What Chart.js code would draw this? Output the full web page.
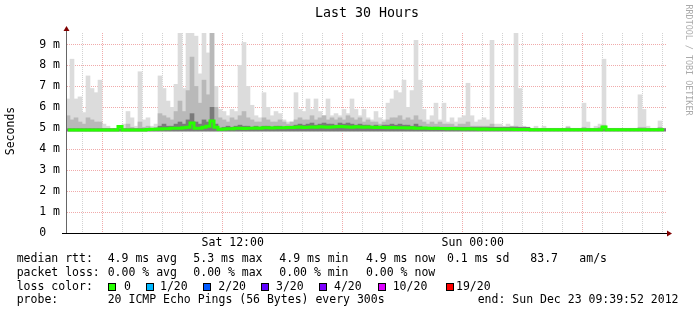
<!DOCTYPE html>
<html>
<head>
<meta charset="utf-8">
<script src="https://cdn.jsdelivr.net/npm/chart.js@4"></script>
<style>
  body { margin: 0; background: #fff; }
  canvas { display: block; }
</style>
</head>
<body>
<canvas id="smokeChart" width="697" height="315"></canvas>
<script>
// time axis: hours since Sat 00:00, graph spans 30 h ending Sun 09:39:52
const startHour = 3.6644;
const endHour = 33.6644;
const binHours = 0.2;

// max ping per bin (ms)
const maxRtt = [
  6.4, 8.3, 6.4, 6.5, 5.75, 7.5, 6.9, 6.7, 7.3, 5.2,
  5.1, 5.0, 5.0, 5.1, 5.2, 5.8, 5.5, 5.1, 7.7, 5.4,
  5.5, 5.1, 5.2, 7.5, 6.9, 6.3, 6.0, 7.1, 9.6, 6.9,
  9.6, 9.6, 9.4, 7.6, 9.6, 8.6, 9.6, 7.0, 5.9, 5.8,
  5.6, 5.9, 5.8, 8.0, 9.1, 7.0, 6.1, 5.6, 5.5, 6.7,
  6.0, 5.6, 5.8, 5.7, 5.4, 5.3, 5.3, 6.7, 5.9, 5.8,
  6.4, 5.9, 6.4, 5.8, 5.6, 6.4, 5.6, 5.7, 5.6, 5.9,
  5.7, 6.4, 5.9, 5.6, 5.9, 5.5, 5.4, 5.8, 5.5, 5.4,
  6.2, 6.4, 6.8, 6.7, 7.3, 6.0, 6.8, 9.2, 7.3, 5.9,
  5.4, 5.6, 6.2, 5.4, 6.2, 5.3, 5.5, 5.3, 5.5, 5.6,
  7.15, 5.6, 5.3, 5.4, 5.5, 5.4, 9.2, 5.2, 5.2, 5.1,
  5.2, 5.1, 9.55, 6.9, 5.1, 5.0, 5.0, 5.1, 5.0, 5.1,
  5.0, 5.0, 5.0, 5.0, 5.0, 5.1, 5.0, 5.0, 5.0, 6.2,
  5.3, 5.0, 5.1, 5.2, 8.3, 5.0, 5.0, 5.0, 5.0, 5.0,
  5.0, 5.0, 5.0, 6.6, 5.9, 5.1, 5.0, 5.0, 5.35, 5.0
];

// upper edge of the denser smoke (ms)
const midRtt = [
  5.6, 5.4, 5.5, 5.3, 5.2, 5.5, 5.4, 5.3, 5.3, 5.0,
  5.0, 4.98, 4.98, 5.1, 5.0, 5.2, 5.05, 5.0, 5.3, 5.05,
  5.1, 5.0, 5.05, 5.7, 5.6, 5.5, 5.4, 5.8, 6.3, 5.8,
  6.8, 8.4, 7.0, 6.2, 7.3, 6.6, 9.55, 6.0, 5.5, 5.4,
  5.3, 5.5, 5.4, 5.6, 5.8, 5.5, 5.4, 5.3, 5.3, 5.5,
  5.4, 5.3, 5.3, 5.4, 5.3, 5.2, 5.3, 5.4, 5.5, 5.4,
  5.4, 5.6, 5.4, 5.5, 5.6, 5.4, 5.5, 5.4, 5.5, 5.4,
  5.6, 5.5, 5.4, 5.5, 5.3, 5.4, 5.3, 5.3, 5.2, 5.3,
  5.4, 5.5, 5.5, 5.6, 5.4, 5.5, 5.4, 5.6, 5.4, 5.3,
  5.2, 5.3, 5.2, 5.3, 5.2, 5.2, 5.2, 5.1, 5.2, 5.2,
  5.3, 5.1, 5.1, 5.1, 5.1, 5.1, 5.2, 5.05, 5.05, 5.05,
  5.05, 5.1, 5.1, 5.05, 5.05, 5.0, 5.0, 5.0, 5.0, 5.0,
  5.0, 5.0, 5.0, 5.0, 5.0, 5.05, 5.0, 5.0, 5.0, 5.05,
  5.0, 5.0, 5.0, 5.05, 5.15, 5.0, 5.0, 5.0, 5.0, 5.0,
  5.0, 5.0, 5.0, 5.05, 5.05, 5.0, 5.0, 5.0, 5.05, 5.0
];

// upper edge of the darkest smoke near the median (ms)
const darkRtt = [
  4.98, 4.98, 4.98, 4.98, 4.98, 4.98, 4.98, 4.98, 4.98, 4.98,
  4.98, 4.98, 4.98, 4.98, 4.98, 4.98, 4.98, 4.98, 4.98, 4.98,
  4.98, 4.98, 4.98, 5.1, 5.2, 5.1, 5.1, 5.2, 5.3, 5.2,
  5.4, 5.7, 5.3, 5.2, 5.4, 5.3, 6.0, 5.2, 5.0, 5.05,
  5.1, 5.05, 5.1, 5.15, 5.1, 5.1, 5.05, 5.1, 5.05, 5.1,
  5.1, 5.05, 5.1, 5.1, 5.05, 5.1, 5.1, 5.15, 5.2, 5.15,
  5.2, 5.25, 5.15, 5.2, 5.25, 5.2, 5.2, 5.15, 5.25, 5.2,
  5.25, 5.2, 5.15, 5.2, 5.15, 5.15, 5.1, 5.15, 5.1, 5.15,
  5.15, 5.2, 5.15, 5.2, 5.15, 5.15, 5.1, 5.2, 5.1, 5.05,
  5.05, 5.05, 5.05, 5.05, 5.05, 5.05, 5.05, 5.05, 5.05, 5.05,
  5.05, 5.05, 5.05, 5.05, 5.05, 5.05, 5.05, 5.05, 5.05, 5.05,
  5.05, 5.05, 5.05, 5.05, 5.05, 5.05, 4.98, 4.98, 4.98, 4.98,
  4.98, 4.98, 4.98, 4.98, 4.98, 4.98, 4.98, 4.98, 4.98, 4.98,
  4.98, 4.98, 4.98, 4.98, 4.98, 4.98, 4.98, 4.98, 4.98, 4.98,
  4.98, 4.98, 4.98, 4.98, 4.98, 4.98, 4.98, 4.98, 4.98, 4.98
];

// median rtt (ms)
const medianRtt = [
  4.92, 4.92, 4.92, 4.92, 4.92, 4.92, 4.92, 4.92, 4.92, 4.92,
  4.92, 4.92, 4.92, 5.08, 4.92, 4.92, 4.92, 4.92, 4.92, 4.92,
  4.94, 4.95, 4.95, 4.97, 4.98, 4.98, 5.0, 5.0, 5.0, 5.02,
  5.05, 5.25, 5.0, 5.0, 5.05, 5.1, 5.35, 5.05, 4.96, 4.97,
  4.98, 4.98, 5.0, 5.0, 4.99, 5.0, 5.0, 5.01, 5.0, 5.02,
  5.02, 5.01, 5.03, 5.03, 5.02, 5.04, 5.04, 5.05, 5.06, 5.04,
  5.05, 5.06, 5.05, 5.07, 5.06, 5.05, 5.06, 5.07, 5.08, 5.07,
  5.06, 5.05, 5.07, 5.06, 5.05, 5.06, 5.05, 5.04, 5.05, 5.04,
  5.03, 5.04, 5.03, 5.02, 5.02, 5.01, 5.02, 5.0, 5.0, 5.01,
  5.0, 4.99, 5.0, 4.99, 4.99, 4.98, 4.99, 4.98, 4.98, 4.97,
  4.98, 4.97, 4.97, 4.96, 4.97, 4.96, 4.96, 4.95, 4.96, 4.95,
  4.95, 4.95, 4.94, 4.94, 4.94, 4.94, 4.93, 4.93, 4.93, 4.93,
  4.93, 4.93, 4.93, 4.93, 4.93, 4.93, 4.93, 4.93, 4.93, 4.93,
  4.93, 4.93, 4.93, 4.93, 5.06, 4.93, 4.93, 4.93, 4.93, 4.93,
  4.93, 4.93, 4.93, 4.93, 4.93, 4.93, 4.93, 4.93, 4.93, 4.93
];
const smokeFloor = 4.85;

const yTickValues = [0, 0.5, 1, 1.5, 2, 2.5, 3, 3.5, 4, 4.5, 5, 5.5, 6, 6.5, 7, 7.5, 8, 8.5, 9, 9.5];
const xTickHours = [4, 5, 6, 7, 8, 9, 10, 11, 12, 13, 14, 15, 16, 17, 18, 19, 20, 21, 22, 23,
  24, 25, 26, 27, 28, 29, 30, 31, 32, 33];
const xTickLabels = { 12: 'Sat 12:00', 24: 'Sun 00:00' };

const statRows = [
  ['median rtt:', '4.9 ms avg', '5.3 ms max', '4.9 ms min', '4.9 ms now', '0.1 ms sd', '83.7', 'am/s'],
  ['packet loss:', '0.00 % avg', '0.00 % max', '0.00 % min', '0.00 % now']
];
const lossLabels = ['0', '1/20', '2/20', '3/20', '4/20', '10/20', '19/20'];
const lossColors = ['#26ff00', '#00b8ff', '#0059ff', '#5e00ff', '#7e00ff', '#dd00ff', '#ff0000'];

const binTimes = maxRtt.map((_, i) => startHour + binHours * (i + 0.5));
const band = (tops, floor) => tops.map((v, i) => ({ x: binTimes[i], y: [floor, v] }));

const MONO = '"DejaVu Sans Mono", monospace';
const MINOR = '#d2d2d2';
const MAJOR = '#f0aaaa';

const decor = {
  id: 'decor',
  afterDraw(chart) {
    const ctx = chart.ctx;
    const a = chart.chartArea;
    ctx.save();
    // axes with arrows
    ctx.lineWidth = 1;
    ctx.strokeStyle = '#666';
    ctx.beginPath(); ctx.moveTo(a.left + 0.5, a.bottom); ctx.lineTo(a.left + 0.5, 29); ctx.stroke();
    ctx.strokeStyle = '#000';
    ctx.beginPath(); ctx.moveTo(62, a.bottom + 0.5); ctx.lineTo(a.right + 2, a.bottom + 0.5); ctx.stroke();
    ctx.fillStyle = '#800000';
    ctx.beginPath(); ctx.moveTo(a.left + 0.5, 26); ctx.lineTo(a.left - 2.5, 31); ctx.lineTo(a.left + 3.5, 31); ctx.closePath(); ctx.fill();
    ctx.beginPath(); ctx.moveTo(a.right + 6, a.bottom + 0.5); ctx.lineTo(a.right + 1, a.bottom - 2.5); ctx.lineTo(a.right + 1, a.bottom + 3.5); ctx.closePath(); ctx.fill();

    // title
    ctx.fillStyle = '#000';
    ctx.textBaseline = 'middle';
    ctx.textAlign = 'center';
    ctx.font = '13.3px ' + MONO;
    ctx.fillText('Last 30 Hours', 367, 14);

    // y title
    ctx.font = '11.5px ' + MONO;
    ctx.save();
    ctx.translate(11, 131);
    ctx.rotate(-Math.PI / 2);
    ctx.fillText('Seconds', 0, 0);
    ctx.restore();

    // watermark
    ctx.save();
    ctx.fillStyle = '#aaa';
    ctx.font = '8.4px ' + MONO;
    ctx.translate(688, 60);
    ctx.rotate(Math.PI / 2);
    ctx.fillText('RRDTOOL / TOBI OETIKER', 0, 0);
    ctx.restore();

    // legend block
    ctx.textAlign = 'left';
    ctx.font = '11.5px ' + MONO;
    const colX = [16.7, 107.7, 193.3, 279.3, 366, 447, 530.3, 579.3];
    const rowY = [259.3, 272.7, 287, 300.3];
    statRows.forEach((row, r) => {
      row.forEach((txt, c) => ctx.fillText(txt, colX[c], rowY[r]));
    });
    ctx.fillText('loss color:', colX[0], rowY[2]);
    const boxX = [108.3, 145.7, 203.3, 261, 319.3, 377.7, 446];
    const labX = [124, 160, 218.3, 276, 334, 392.7, 456];
    lossLabels.forEach((lab, i) => {
      ctx.fillStyle = lossColors[i];
      ctx.fillRect(Math.round(boxX[i]), 283, 8, 8);
      ctx.strokeStyle = '#000';
      ctx.strokeRect(Math.round(boxX[i]) + 0.5, 283.5, 7, 7);
      ctx.fillStyle = '#000';
      ctx.fillText(lab, labX[i], rowY[2]);
    });
    ctx.fillText('probe:', colX[0], rowY[3]);
    ctx.fillText('20 ICMP Echo Pings (56 Bytes) every 300s', colX[1], rowY[3]);
    ctx.fillText('end: Sun Dec 23 09:39:52 2012', 477.7, rowY[3]);
    ctx.restore();
  }
};

new Chart(document.getElementById('smokeChart'), {
  type: 'bar',
  data: {
    datasets: [
      { type: 'line', label: 'median', data: medianRtt.map((v, i) => ({ x: binTimes[i], y: v })),
        borderColor: lossColors[0], borderWidth: 3, pointRadius: 0, stepped: 'middle', order: 1 },
      { label: 'dark', data: band(darkRtt, 4.88), backgroundColor: '#7a7a7a', grouped: false,
        barPercentage: 1, categoryPercentage: 1, order: 2 },
      { label: 'mid', data: band(midRtt, smokeFloor), backgroundColor: '#b9b9b9', grouped: false,
        barPercentage: 1, categoryPercentage: 1, order: 3 },
      { label: 'max', data: band(maxRtt, smokeFloor), backgroundColor: '#dcdcdc', grouped: false,
        barPercentage: 1, categoryPercentage: 1, order: 4 }
    ]
  },
  options: {
    responsive: false,
    animation: false,
    devicePixelRatio: 1,
    layout: { padding: { top: 33, right: 31, left: 0, bottom: 0 } },
    plugins: { legend: { display: false }, tooltip: { enabled: false } },
    scales: {
      x: {
        type: 'linear', min: startHour, max: endHour, offset: false,
        afterBuildTicks: (s) => { s.ticks = xTickHours.map(v => ({ value: v })); },
        afterFit: (s) => { s.height = 82; },
        grid: { color: (c) => (c.tick && c.tick.value % 6 === 0 ? MAJOR : MINOR), drawTicks: false },
        border: { display: true, color: '#000', dash: [1, 1] },
        ticks: {
          autoSkip: false, maxRotation: 0, padding: 3, color: '#000',
          font: { family: 'DejaVu Sans Mono', size: 11.5 },
          callback: (v) => xTickLabels[v] || ''
        }
      },
      y: {
        min: 0, max: 9.55,
        afterBuildTicks: (s) => { s.ticks = yTickValues.map(v => ({ value: v })); },
        afterFit: (s) => { s.width = 66; },
        grid: { color: (c) => (c.tick && c.tick.value % 1 === 0 ? MAJOR : MINOR), drawTicks: false },
        border: { display: true, color: '#666', dash: [1, 1] },
        ticks: {
          padding: 6, color: '#000',
          font: { family: 'DejaVu Sans Mono', size: 11.5 },
          callback: (v) => (v % 1 !== 0 ? '' : (v === 0 ? '0  ' : v + ' m'))
        }
      }
    }
  },
  plugins: [decor]
});
</script>
</body>
</html>
